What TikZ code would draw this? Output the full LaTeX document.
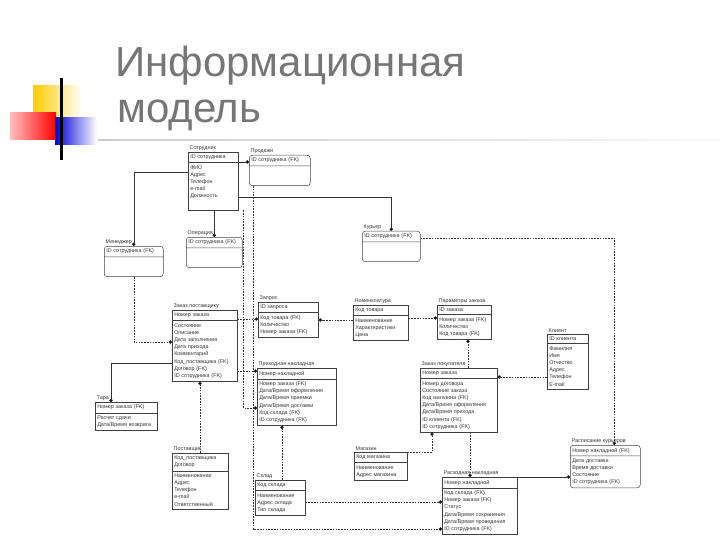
\documentclass[tikz,border=0pt]{standalone}
\usepackage{fontspec}
\setmainfont{Liberation Sans}
\usetikzlibrary{shapes.multipart,arrows.meta,positioning}
\definecolor{titlegray}{RGB}{118,118,118}
\definecolor{logoyellow}{RGB}{255,204,0}

\begin{document}
\begin{tikzpicture}[x=1pt, y=-1pt,
    ent/.style={draw=black!75, line width=0.5pt, rectangle split, rectangle split parts=2,
        anchor=north west, inner xsep=2pt, inner ysep=2.5pt, align=left,
        font=\fontsize{5.4}{7.2}\selectfont, text=black!80},
    dep/.style={ent, rounded corners=3pt},
    lbl/.style={inner sep=0.5pt, font=\fontsize{5.4}{6}\selectfont, text=black!80},
    idf/.style={draw=black!80, line width=0.5pt, -{Circle[length=3.4pt]}},
    nid/.style={idf, dash pattern=on 1.6pt off 1.2pt},
    title/.style={anchor=base west, inner sep=0pt, text=titlegray, font=\fontsize{42}{48}\selectfont},
]
    \useasboundingbox (0,0) rectangle (720,540);

    % --- Logo ---
    \shade[left color=logoyellow, right color=white] (33,86) rectangle (82,126);
    \shade[left color=red!25, right color=red] (10,113) rectangle (56,140);
    \shade[left color=blue!85!black, right color=white] (55,118) rectangle (97,145);
    \draw[black, line width=2.2pt] (61.5,78) -- (61.5,160);
    \shade[left color=gray!40, right color=gray!5] (98,139.5) rectangle (720,141);

    % --- Titre ---
    \node[title] (t1) at (115,77) {Информационная};
    \node[title] (t2) at (117,123) {модель};

    % --- Entities ---
    \node[ent, text width=46pt] (sotr) at (188,152)
        {ID сотрудника \nodepart{two} ФИО\\ Адрес\\ Телефон\\ e-mail\\ Должность\\ \strut};
    \node[lbl, above right=0.5pt and 1pt of sotr.north west] (sotr-l) {Сотрудник};

    \node[dep, text width=57pt] (prod) at (249,155)
        {ID сотрудника (FK) \nodepart{two} \strut\\ \strut};
    \node[lbl, above right=0.5pt and 1pt of prod.north west] (prod-l) {Продажи};

    \node[dep, text width=55pt] (menedzh) at (104,246)
        {ID сотрудника (FK) \nodepart{two} \strut\\ \strut};
    \node[lbl, above right=0.5pt and 1pt of menedzh.north west] (menedzh-l) {Менеджер};

    \node[dep, text width=52pt] (oper) at (186,237)
        {ID сотрудника (FK) \nodepart{two} \strut\\ \strut};
    \node[lbl, above right=0.5pt and 1pt of oper.north west] (oper-l) {Операция};

    \node[dep, text width=54pt] (kurer) at (362,231)
        {ID сотрудника (FK) \nodepart{two} \strut\\ \strut};
    \node[lbl, above right=0.5pt and 1pt of kurer.north west] (kurer-l) {Курьер};

    \node[ent, text width=61pt] (zp) at (172,310)
        {Номер заказа \nodepart{two} Состояние\\ Описание\\ Дата заполнения\\ Дата прихода\\
         Комментарий\\ Код\_поставщика (FK)\\ Договор (FK)\\ ID сотрудника (FK)};
    \node[lbl, above right=0.5pt and 1pt of zp.north west] (zp-l) {Заказ поставщику};

    \node[ent, text width=56pt] (zap) at (258,302)
        {ID запроса \nodepart{two} Код товара (FK)\\ Количество\\ Номер заказа (FK)};
    \node[lbl, above right=0.5pt and 1pt of zap.north west] (zap-l) {Запрос};

    \node[ent, text width=51pt] (nom) at (353,305)
        {Код товара \nodepart{two} Наименование\\ Характеристики\\ Цена};
    \node[lbl, above right=0.5pt and 1pt of nom.north west] (nom-l) {Номенклатура};

    \node[ent, text width=50pt] (param) at (437,305)
        {ID заказа \nodepart{two} Номер заказа (FK)\\ Количество\\ Код товара (FK)};
    \node[lbl, above right=0.5pt and 1pt of param.north west] (param-l) {Параметры заказа};

    \node[ent, text width=73pt] (zpok) at (420,368)
        {Номер заказа \nodepart{two} Номер договора\\ Состояние заказа\\ Код магазина (FK)\\
         Дата/Время оформления\\ Дата/Время прихода\\ ID клиента (FK)\\ ID сотрудника (FK)};
    \node[lbl, above right=0.5pt and 1pt of zpok.north west] (zpok-l) {Заказ покупателя};

    \node[ent, text width=37pt] (klient) at (547,334)
        {ID клиента \nodepart{two} Фамилия\\ Имя\\ Отчество\\ Адрес\\ Телефон\\ E-mail};
    \node[lbl, above right=0.5pt and 1pt of klient.north west] (klient-l) {Клиент};

    \node[ent, text width=75pt] (prih) at (257,368)
        {Номер накладной \nodepart{two} Номер заказа (FK)\\ Дата/Время оформления\\
         Дата/Время приемки\\ Дата/Время доставки\\ Код склада (FK)\\ ID сотрудника (FK)};
    \node[lbl, above right=0.5pt and 1pt of prih.north west] (prih-l) {Приходная накладная};

    \node[ent, text width=58pt] (tara) at (95,402)
        {Номер заказа (FK) \nodepart{two} Расчет сдачи\\ Дата/Время возврата};
    \node[lbl, above right=0.5pt and 1pt of tara.north west] (tara-l) {Тара};

    \node[ent, text width=52pt] (post) at (172,453)
        {Код\_поставщика\\ Договор \nodepart{two} Наименование\\ Адрес\\ Телефон\\ e-mail\\ Ответственный};
    \node[lbl, above right=0.5pt and 1pt of post.north west] (post-l) {Поставщик};

    \node[ent, text width=46pt] (sklad) at (255,480)
        {Код склада \nodepart{two} Наименование\\ Адрес склада\\ Тип склада};
    \node[lbl, above right=0.5pt and 1pt of sklad.north west] (sklad-l) {Склад};

    \node[ent, text width=49pt] (mag) at (354,452)
        {Код магазина \nodepart{two} Наименование\\ Адрес магазина};
    \node[lbl, above right=0.5pt and 1pt of mag.north west] (mag-l) {Магазин};

    \node[ent, text width=71pt] (rash) at (442,477)
        {Номер накладной \nodepart{two} Код склада (FK)\\ Номер заказа (FK)\\ Статус\\
         Дата/Время сохранения\\ Дата/Время проведения\\ ID сотрудника (FK)};
    \node[lbl, above right=0.5pt and 1pt of rash.north west] (rash-l) {Расходная накладная};

    \node[dep, text width=66pt] (rasp) at (570,445)
        {Номер накладной (FK) \nodepart{two} Дата доставки\\ Время доставки\\ Состояние\\ ID сотрудника (FK)};
    \node[lbl, above right=0.5pt and 1pt of rasp.north west] (rasp-l) {Расписание курьеров};

    % --- Points de raccordement ---
    \coordinate (s1) at ([yshift=-10pt]sotr.north east);
    \coordinate (s2) at ([yshift=-20pt]sotr.north west);
    \coordinate (s3) at ([yshift=-45pt]sotr.north east);
    \coordinate (k1) at ([yshift=-7pt]kurer.north east);
    \coordinate (r0) at ([xshift=9pt]rasp.north);
    \coordinate (busA) at ([xshift=5pt]sotr.south east);
    \coordinate (busB) at ([xshift=4pt]prod.south west);
    \coordinate (z1) at ([yshift=-9pt]zp.north east);
    \coordinate (z2) at ([yshift=-61pt]zp.north east);
    \coordinate (z3) at ([xshift=28pt]zp.south west);
    \coordinate (z4) at ([yshift=-32pt]zp.north west);
    \coordinate (z5) at ([yshift=-53pt]zp.north west);
    \coordinate (t0) at ([xshift=16pt]tara.north west);
    \coordinate (n1) at ([yshift=-15pt]nom.north west);
    \coordinate (n2) at ([yshift=-13pt]nom.north east);
    \coordinate (q1) at ([xshift=48pt]zpok.north west);
    \coordinate (q2) at ([yshift=-9pt]zpok.north east);
    \coordinate (q3) at ([xshift=12pt]zpok.south west);
    \coordinate (q4) at ([xshift=50pt]zpok.south west);
    \coordinate (p2) at ([yshift=-40pt]prih.north west);
    \coordinate (p3) at ([xshift=25pt]prih.south west);
    \coordinate (w1) at ([yshift=-22pt]sklad.north east);
    \coordinate (h6) at ([yshift=-52pt]rash.north west);

    % --- Identifying relationships ---
    \draw[idf] (s1) -- (s1 -| prod.west);
    \draw[idf] (s2) -| (menedzh.north);
    \draw[idf] (oper.north |- sotr.south) -- (oper.north);
    \draw[idf] (s3) -| (kurer.north);
    \draw[idf] (z5) -| (t0);
    \draw[idf] (rash.north east) -- (rash.north east -| rasp.west);

    % --- Non-identifying relationships ---
    \draw[nid] (k1) -| (r0);
    \draw[nid] (busB) |- (h6);
    \draw[nid] (busA) |- (p2);
    \draw[nid] (z1) -- (z1 -| zap.west);
    \draw[nid] (z2) -- (z2 -| prih.west);
    \draw[nid] (n1) -- (n1 -| zap.east);
    \draw[nid] (n2) -- (n2 -| param.west);
    \draw[nid] (q1) -- (q1 |- param.south);
    \draw[nid] (q2 -| klient.west) -- (q2);
    \draw[nid] (z3 |- post.north) -- (z3);
    \draw[nid] (menedzh.south) |- (z4);
    \draw[nid] (p3 |- sklad.north) -- (p3);
    \draw[nid] (w1) -- (w1 -| rash.west);
    \draw[nid] (mag.north east) -| (q3);
    \draw[nid] (q4) -- (q4 |- rash.north);
\end{tikzpicture}
\end{document}
